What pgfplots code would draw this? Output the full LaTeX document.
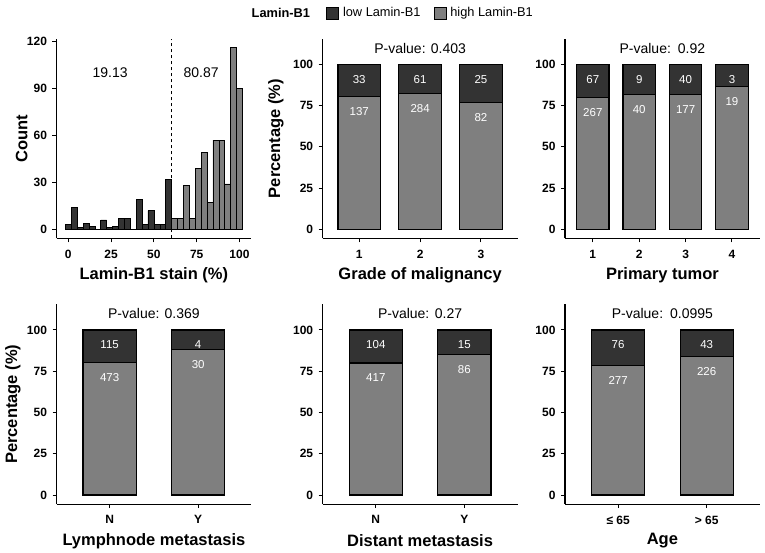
\documentclass[border=0pt]{standalone}
\usepackage{pgfplots}
\pgfplotsset{compat=1.18}
\usepackage{fontspec}
\setmainfont{Liberation Sans}
\definecolor{darkg}{HTML}{333333}
\definecolor{lightg}{HTML}{7F7F7F}
\newcommand{\fs}[1]{\fontsize{#1}{#1}\selectfont}
\pgfplotsset{
  panel/.style={
    scale only axis, width=194.8pt, height=199.7pt, anchor=south west,
    axis x line=bottom, axis y line=left,
    axis line style={-, line width=1.1pt, black},
    x axis line style={-}, y axis line style={-},
    tick align=outside, major tick length=4pt,
    tick style={line width=1pt, black},
    ticklabel style={font=\bfseries\fs{12}, text=black},
    xticklabel style={yshift=-4pt},
    yticklabel style={xshift=-2pt},
    /pgf/number format/assume math mode=true,
    clip=false,
  },
  xlab/.style={every axis x label/.style={at={(axis description cs:0.5,#1)}, anchor=center, font=\bfseries\fs{16.5}}},
  ylab/.style={every axis y label/.style={at={(axis description cs:#1,0.5)}, rotate=90, anchor=center, font=\bfseries\fs{16.5}}},
  pct/.style={panel, ybar stacked, ymin=-5.5, ymax=115.5, ytick={0,25,50,75,100},
    nodes near coords, point meta=explicit symbolic,
    visualization depends on=rawy\as\ry,
    every node near coord/.append style={anchor=center, yshift={\ry*0.8245pt-14.84pt}, text=white, font=\fs{11.5}},
  },
  barsty/.style={draw=black, line width=1.2pt},
  sqlegend/.style={legend image code/.code={\draw[##1, line width=0.8pt, draw=black] (0pt,-6pt) rectangle (12pt,6pt);}},
}
\begin{document}
\begin{tikzpicture}
\useasboundingbox (0pt,0pt) rectangle (765pt,553pt);
% ---------- Histogram ----------
\begin{axis}[panel, at={(56.5pt,314.6pt)},
  xmin=-6.9, xmax=106.9, ymin=-5.8, ymax=121.8,
  xtick={0,25,50,75,100}, ytick={0,30,60,90,120},
  xlabel={Lamin-B1 stain (\%)}, ylabel={Count},
  xlab=-0.186, ylab=-0.179,
  legend style={draw=none, fill=none, at={(axis description cs:1.3835,1.1287)}, anchor=west,
    legend columns=-1, inner sep=0pt, font=\fs{12.8},
    /tikz/every odd column/.append style={column sep=2pt},
    /tikz/every even column/.append style={column sep=11pt}},
]
\addplot[ybar, bar width=3.448, bar shift=0pt, fill=darkg, draw=black, line width=0.6pt, sqlegend] coordinates {
(0,3) (3.448,14) (6.897,1) (10.345,4) (13.793,2) (17.241,0) (20.690,6) (24.138,1) (27.586,2)
(31.034,7) (34.483,7) (37.931,0) (41.379,19) (44.828,3) (48.276,12) (51.724,3) (55.172,3) (58.621,32)};
\addlegendentry{low Lamin-B1}
\addplot[ybar, bar width=3.448, bar shift=0pt, fill=lightg, draw=black, line width=0.6pt, sqlegend] coordinates {
(62.069,7) (65.517,7) (68.966,28) (72.414,7) (75.862,39) (79.310,49) (82.759,17) (86.207,57)
(89.655,57) (93.103,29) (96.552,116) (100,90)};
\addlegendentry{high Lamin-B1}
\addplot[black, dashed, line width=0.7pt, forget plot] coordinates {(60,-5.8) (60,121.8)};
\node[font=\fs{14}] at (axis cs:24.4,100) {19.13};
\node[font=\fs{14}] at (axis cs:77.6,100) {80.87};
\end{axis}
\node[font=\bfseries\fs{12.8}] at (280.9pt,540pt) {Lamin-B1};
% ---------- Grade ----------
\begin{axis}[pct, at={(322.7pt,314.6pt)}, bar width=0.7,
  xmin=0.4, xmax=3.6, xtick={1,2,3},
  xlabel={Grade of malignancy}, ylabel={Percentage (\%)},
  xlab=-0.186, ylab=-0.24,
]
\addplot[fill=lightg, barsty] coordinates {(1,80.59)[137] (2,82.32)[284] (3,76.64)[82]};
\addplot[fill=darkg, barsty] coordinates {(1,19.41)[33] (2,17.68)[61] (3,23.36)[25]};
\node[font=\fs{14}] at (axis cs:2,109.8) {P-value: 0.403};
\end{axis}
% ---------- Primary tumor ----------
\begin{axis}[pct, at={(565pt,314.6pt)}, bar width=0.7,
  xmin=0.4, xmax=4.6, xtick={1,2,3,4},
  xlabel={Primary tumor}, xlab=-0.186,
]
\addplot[fill=lightg, barsty] coordinates {(1,79.94)[267] (2,81.63)[40] (3,81.57)[177] (4,86.36)[19]};
\addplot[fill=darkg, barsty] coordinates {(1,20.06)[67] (2,18.37)[9] (3,18.43)[40] (4,13.64)[3]};
\node[font=\fs{14}] at (axis cs:2.5,109.8) {P-value:\hspace{0.5em}0.92};
\end{axis}
% ---------- Lymphnode ----------
\begin{axis}[pct, at={(56.5pt,48.9pt)}, bar width=0.6,
  xmin=0.4, xmax=2.6, xtick={1,2}, xticklabels={N,Y},
  xlabel={Lymphnode metastasis}, ylabel={Percentage (\%)},
  xlab=-0.184, ylab=-0.224,
]
\addplot[fill=lightg, barsty] coordinates {(1,80.44)[473] (2,88.24)[30]};
\addplot[fill=darkg, barsty] coordinates {(1,19.56)[115] (2,11.76)[4]};
\node[font=\fs{14}] at (axis cs:1.5,109.8) {P-value: 0.369};
\end{axis}
% ---------- Distant ----------
\begin{axis}[pct, at={(322.7pt,48.9pt)}, bar width=0.6,
  xmin=0.4, xmax=2.6, xtick={1,2}, xticklabels={N,Y},
  xlabel={Distant metastasis}, xlab=-0.184,
]
\addplot[fill=lightg, barsty] coordinates {(1,80.04)[417] (2,85.15)[86]};
\addplot[fill=darkg, barsty] coordinates {(1,19.96)[104] (2,14.85)[15]};
\node[font=\fs{14}] at (axis cs:1.5,109.8) {P-value:\hspace{0.4em}0.27};
\end{axis}
% ---------- Age ----------
\begin{axis}[pct, at={(565pt,48.9pt)}, bar width=0.6,
  xmin=0.4, xmax=2.6, xtick={1,2}, xticklabels={≤ 65,> 65},
  xlabel={Age}, xlab=-0.184,
]
\addplot[fill=lightg, barsty] coordinates {(1,78.47)[277] (2,84.01)[226]};
\addplot[fill=darkg, barsty] coordinates {(1,21.53)[76] (2,15.99)[43]};
\node[font=\fs{14}] at (axis cs:1.5,109.8) {P-value:\hspace{0.5em}0.0995};
\end{axis}
\end{tikzpicture}
\end{document}
